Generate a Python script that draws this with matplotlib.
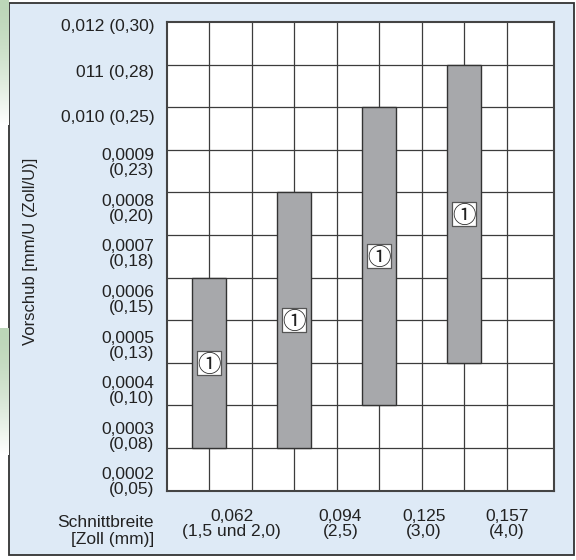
import numpy as np
import matplotlib
matplotlib.use("Agg")
import matplotlib.pyplot as plt
from matplotlib.patches import Rectangle
from matplotlib.colors import LinearSegmentedColormap

# ── Data (grid-row units: 0 = bottom edge, 11 = top edge) ───────────────────
bar_pos = [1, 3, 5, 7]
bar_low = [1, 1, 2, 3]
bar_high = [5, 7, 9, 10]
marker_text = ["\u2460", "\u2460", "\u2460", "\u2460"]

y_labels = ["0,012 (0,30)", "011 (0,28)", "0,010 (0,25)",
            "0,0009\n(0,23)", "0,0008\n(0,20)", "0,0007\n(0,18)",
            "0,0006\n(0,15)", "0,0005\n(0,13)", "0,0004\n(0,10)",
            "0,0003\n(0,08)", "0,0002\n(0,05)"]
x_labels = ["0,062\n(1,5 und 2,0)", "0,094\n(2,5)", "0,125\n(3,0)", "0,157\n(4,0)"]
x_label_pos = [1.53, 4.09, 6.05, 8.0]

n_rows = 11
n_cols = 9

plt.rcParams["font.family"] = ["Liberation Sans", "DejaVu Sans", "Noto Sans CJK JP"]

W, H = 576, 560
fig = plt.figure(figsize=(W / 100, H / 100), dpi=100)
fig.patch.set_facecolor("white")

# left green gradient strips
green = LinearSegmentedColormap.from_list("g", ["#bcd6b8", "#ffffff"])
for top, bot in [(0, 125), (328, 455)]:
    sax = fig.add_axes([0, 1 - bot / H, 9 / W, (bot - top) / H])
    grad = np.linspace(0, 1, 100).reshape(-1, 1) ** 1.5
    sax.imshow(grad, aspect="auto", cmap=green, vmin=0, vmax=1)
    sax.axis("off")

# light blue panel
fig.patches.append(Rectangle((9 / W, 1 - 555 / H), (574 - 9) / W, (555 - 3) / H,
                             transform=fig.transFigure, facecolor="#deeaf6",
                             edgecolor="#333333", lw=1.3, zorder=-1))

ax = fig.add_axes([166.7 / W, 1 - 490.7 / H, (554 - 166.7) / W, (490.7 - 22) / H])
ax.set_facecolor("white")
col_w = 42.5
ax.set_xlim(0, (554 - 166.7) / col_w)
ax.set_ylim(0, n_rows)

for y in range(1, n_rows):
    ax.axhline(y, color="#3c3c3c", lw=0.9, zorder=1)
for x in range(1, n_cols):
    ax.axvline(x, color="#3c3c3c", lw=0.9, zorder=1)

heights = [h - l for l, h in zip(bar_low, bar_high)]
ax.bar(bar_pos, heights, bottom=bar_low, width=0.8, color="#a7a8ab",
       edgecolor="#333333", lw=1.0, zorder=2)

# white boxed markers in the middle of each bar
mids = [(l + h) / 2 for l, h in zip(bar_low, bar_high)]
ax.scatter(bar_pos, mids, marker="s", s=300, facecolor="white",
           edgecolor="#555555", linewidths=0.9, zorder=3)
for x, m, t in zip(bar_pos, mids, marker_text):
    ax.text(x, m, t, ha="center", va="center_baseline", fontsize=17,
            family=["Noto Sans CJK JP", "DejaVu Sans"], color="#222222", zorder=4)

ax.set_yticks(np.linspace(10.93, 0.23, len(y_labels)))
ax.set_yticklabels(y_labels, fontsize=12.5, linespacing=1.0, color="#222222")
ax.set_xticks(x_label_pos)
ax.set_xticklabels(x_labels, fontsize=12.5, linespacing=1.05, color="#222222")
ax.tick_params(axis="y", length=0, pad=9)
ax.tick_params(axis="x", length=0, pad=13)

for s in ax.spines.values():
    s.set_color("#444444")
    s.set_linewidth(1.5)

fig.text(154 / W, 1 - 531 / H, "Schnittbreite\n[Zoll (mm)]", ha="right",
         va="center", fontsize=12.5, linespacing=1.2, color="#222222")
fig.text(31 / W, 1 - 251 / H, "Vorschub [mm/U (Zoll/U)]", rotation=90,
         ha="center", va="center", fontsize=12, color="#222222")

fig.savefig("out.png", dpi=100)
